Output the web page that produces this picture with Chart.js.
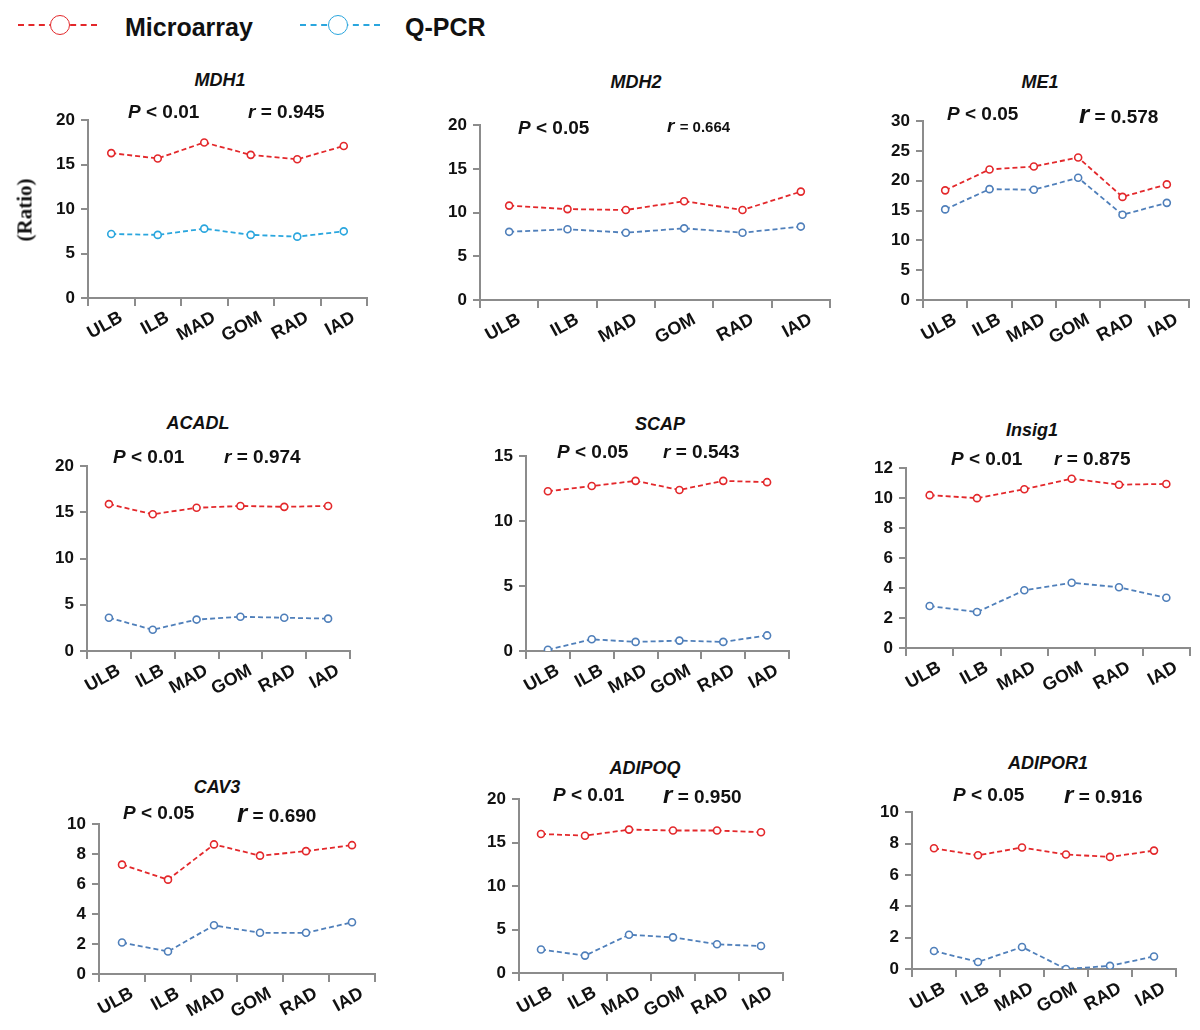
<!DOCTYPE html>
<html>
<head>
<meta charset="utf-8">
<script src="https://cdn.jsdelivr.net/npm/chart.js@4.4.1/dist/chart.umd.min.js"></script>
<style>
body{margin:0;background:#fff;width:1200px;height:1030px;position:relative;overflow:hidden;font-family:"Liberation Sans",Arial,sans-serif;color:#111;}
.caja{position:absolute;}
.txt{position:absolute;font-weight:bold;white-space:nowrap;transform:translateY(-50%);}
.titulo{position:absolute;font-weight:bold;font-style:italic;font-size:18px;white-space:nowrap;transform:translate(-50%,-50%);}
.ley-linea{position:absolute;height:0;border-top:2px dashed;}
.ley-punto{position:absolute;width:18px;height:18px;border-radius:50%;border:1.6px solid;background:#fff;}
</style>
</head>
<body>
<div id="hoja"></div>
<script>
// regiones de tejido (eje x)
var regiones = ["ULB", "ILB", "MAD", "GOM", "RAD", "IAD"];
var genes = ["MDH1", "MDH2", "ME1", "ACADL", "SCAP", "Insig1", "CAV3", "ADIPOQ", "ADIPOR1"];

// Microarray / Q-PCR por gen
var microMDH1 = [16.3, 15.7, 17.5, 16.1, 15.6, 17.1];
var qpcrMDH1 = [7.2, 7.1, 7.8, 7.1, 6.9, 7.5];
var microMDH2 = [10.8, 10.4, 10.3, 11.3, 10.3, 12.4];
var qpcrMDH2 = [7.8, 8.1, 7.7, 8.2, 7.7, 8.4];
var microME1 = [18.4, 21.9, 22.4, 23.9, 17.3, 19.4];
var qpcrME1 = [15.2, 18.6, 18.5, 20.5, 14.3, 16.3];
var microACADL = [15.9, 14.8, 15.5, 15.7, 15.6, 15.7];
var qpcrACADL = [3.6, 2.3, 3.4, 3.7, 3.6, 3.5];
var microSCAP = [12.3, 12.7, 13.1, 12.4, 13.1, 13.0];
var qpcrSCAP = [0.1, 0.9, 0.7, 0.8, 0.7, 1.2];
var microInsig1 = [10.2, 10.0, 10.6, 11.3, 10.9, 10.95];
var qpcrInsig1 = [2.8, 2.4, 3.85, 4.35, 4.05, 3.35];
var microCAV3 = [7.3, 6.3, 8.65, 7.9, 8.2, 8.6];
var qpcrCAV3 = [2.1, 1.5, 3.25, 2.75, 2.75, 3.45];
var microADIPOQ = [16.0, 15.8, 16.5, 16.4, 16.4, 16.2];
var qpcrADIPOQ = [2.7, 2.0, 4.4, 4.1, 3.3, 3.1];
var microADIPOR1 = [7.7, 7.25, 7.75, 7.3, 7.15, 7.55];
var qpcrADIPOR1 = [1.15, 0.45, 1.4, 0.0, 0.2, 0.8];

var seriesMicro = [microMDH1, microMDH2, microME1, microACADL, microSCAP, microInsig1, microCAV3, microADIPOQ, microADIPOR1];
var seriesQpcr = [qpcrMDH1, qpcrMDH2, qpcrME1, qpcrACADL, qpcrSCAP, qpcrInsig1, qpcrCAV3, qpcrADIPOQ, qpcrADIPOR1];

// ejes y estadisticos
var ejeMax = [20, 20, 30, 20, 15, 12, 10, 20, 10];
var ejePaso = [5, 5, 5, 5, 5, 2, 2, 5, 2];
var valoresP = ["0.01", "0.05", "0.05", "0.01", "0.05", "0.01", "0.05", "0.01", "0.05"];
var valoresR = ["0.945", "0.664", "0.578", "0.974", "0.543", "0.875", "0.690", "0.950", "0.916"];

// posiciones en la pagina: [izq, arriba, abajo, der] del area de trazado
var cajas = [
    [88, 118, 298, 367], [480, 123, 300, 830], [923, 119, 300, 1189],
    [87, 464, 651, 350], [526, 454, 651, 789], [906, 466, 648, 1190],
    [99, 822, 974, 375], [519, 797, 973, 783], [912, 810, 969, 1176]
];
var posTitulo = [[220, 80], [636, 82], [1040, 82], [198, 423], [660, 424], [1032, 430], [217, 787], [645, 768], [1048, 763]];
var posP = [[128, 112], [518, 128], [947, 114], [113, 457], [557, 452], [951, 459], [123, 813], [553, 795], [953, 795]];
var posR = [[248, 112], [667, 126], [1079, 114], [224, 457], [663, 452], [1054, 459], [237, 813], [663, 795], [1064, 795]];
var tamR = [19, 19, 26, 19, 19, 19, 26, 24, 24];

var rojo = "#e3282b";
var cian = "#2aa6de";
var azul = "#4f7fba";

var hoja = document.getElementById("hoja");

function agregarTexto(clase, html, x, y, extra) {
    var d = document.createElement("div");
    d.className = clase;
    d.innerHTML = html;
    d.style.left = x + "px";
    d.style.top = y + "px";
    if (extra) d.style.cssText += extra;
    hoja.appendChild(d);
}

function dibujarPanel(i) {
    var c = cajas[i];
    var padL = 70, padT = 14, padB = 62, padR = 14;
    var ancho = c[3] - c[0] + padL + padR;
    var alto = c[2] - c[1] + padT + padB;
    var div = document.createElement("div");
    div.className = "caja";
    div.style.left = (c[0] - padL) + "px";
    div.style.top = (c[1] - padT) + "px";
    var canvas = document.createElement("canvas");
    canvas.width = ancho;
    canvas.height = alto;
    div.appendChild(canvas);
    hoja.appendChild(div);

    var colorQ = i == 0 ? cian : azul;
    var serie = function (datos, color) {
        return {
            data: datos,
            borderColor: color,
            borderWidth: 1.8,
            borderDash: [5, 3],
            pointRadius: 3.5,
            pointBorderWidth: 1.6,
            pointBorderColor: color,
            pointBackgroundColor: "#fff",
            fill: false,
            tension: 0
        };
    };
    new Chart(canvas.getContext("2d"), {
        type: "line",
        data: {
            labels: regiones,
            datasets: [serie(seriesMicro[i], rojo), serie(seriesQpcr[i], colorQ)]
        },
        options: {
            responsive: false,
            animation: false,
            layout: {padding: {top: padT, right: padR, left: 0, bottom: 0}},
            plugins: {legend: {display: false}, tooltip: {enabled: false}},
            scales: {
                x: {
                    offset: true,
                    afterFit: function (s) { s.height = padB; },
                    grid: {offset: true, drawOnChartArea: false, drawTicks: true, tickLength: 8, color: "#8c8c8c", lineWidth: 2},
                    border: {color: "#8c8c8c", width: 2},
                    ticks: {
                        autoSkip: false, minRotation: 29, maxRotation: 29, padding: 1, labelOffset: 10,
                        color: "#111", font: {family: "Liberation Sans", size: 18, weight: "bold"}
                    }
                },
                y: {
                    min: 0,
                    max: ejeMax[i],
                    afterFit: function (s) { s.width = padL; },
                    grid: {drawOnChartArea: false, drawTicks: true, tickLength: 7, color: "#8c8c8c", lineWidth: 2},
                    border: {color: "#8c8c8c", width: 2},
                    ticks: {
                        stepSize: ejePaso[i], padding: 6,
                        color: "#111", font: {family: "Liberation Sans", size: 17, weight: "bold"}
                    }
                }
            }
        }
    });

    agregarTexto("titulo", genes[i], posTitulo[i][0], posTitulo[i][1]);
    agregarTexto("txt", "<i>P</i> &lt; " + valoresP[i], posP[i][0], posP[i][1], "font-size:19px;");
    var tamNum = i == 1 ? 15 : 19;
    agregarTexto("txt", "<i style=\"font-size:" + tamR[i] + "px\">r</i> <span style=\"font-size:" + tamNum + "px\">= " + valoresR[i] + "</span>",
        posR[i][0], posR[i][1], "font-size:19px;");
}

for (var i = 0; i < genes.length; i++) {
    dibujarPanel(i);
}

// etiqueta del eje y
agregarTexto("txt", "(Ratio)", 25, 210, "font-family:'Liberation Serif',serif;font-size:21px;transform:translate(-50%,-50%) rotate(-90deg);");

// leyenda
function leyenda(x1, x2, cx, color, texto, xt) {
    var l = document.createElement("div");
    l.className = "ley-linea";
    l.style.cssText += "left:" + x1 + "px;width:" + (x2 - x1) + "px;top:24px;border-color:" + color + ";";
    hoja.appendChild(l);
    var p = document.createElement("div");
    p.className = "ley-punto";
    p.style.cssText += "left:" + (cx - 10) + "px;top:15px;border-color:" + color + ";";
    hoja.appendChild(p);
    agregarTexto("txt", texto, xt, 27, "font-size:25px;");
}
leyenda(18, 97, 60, rojo, "Microarray", 125);
leyenda(300, 380, 338, cian, "Q-PCR", 405);
</script>
</body>
</html>
